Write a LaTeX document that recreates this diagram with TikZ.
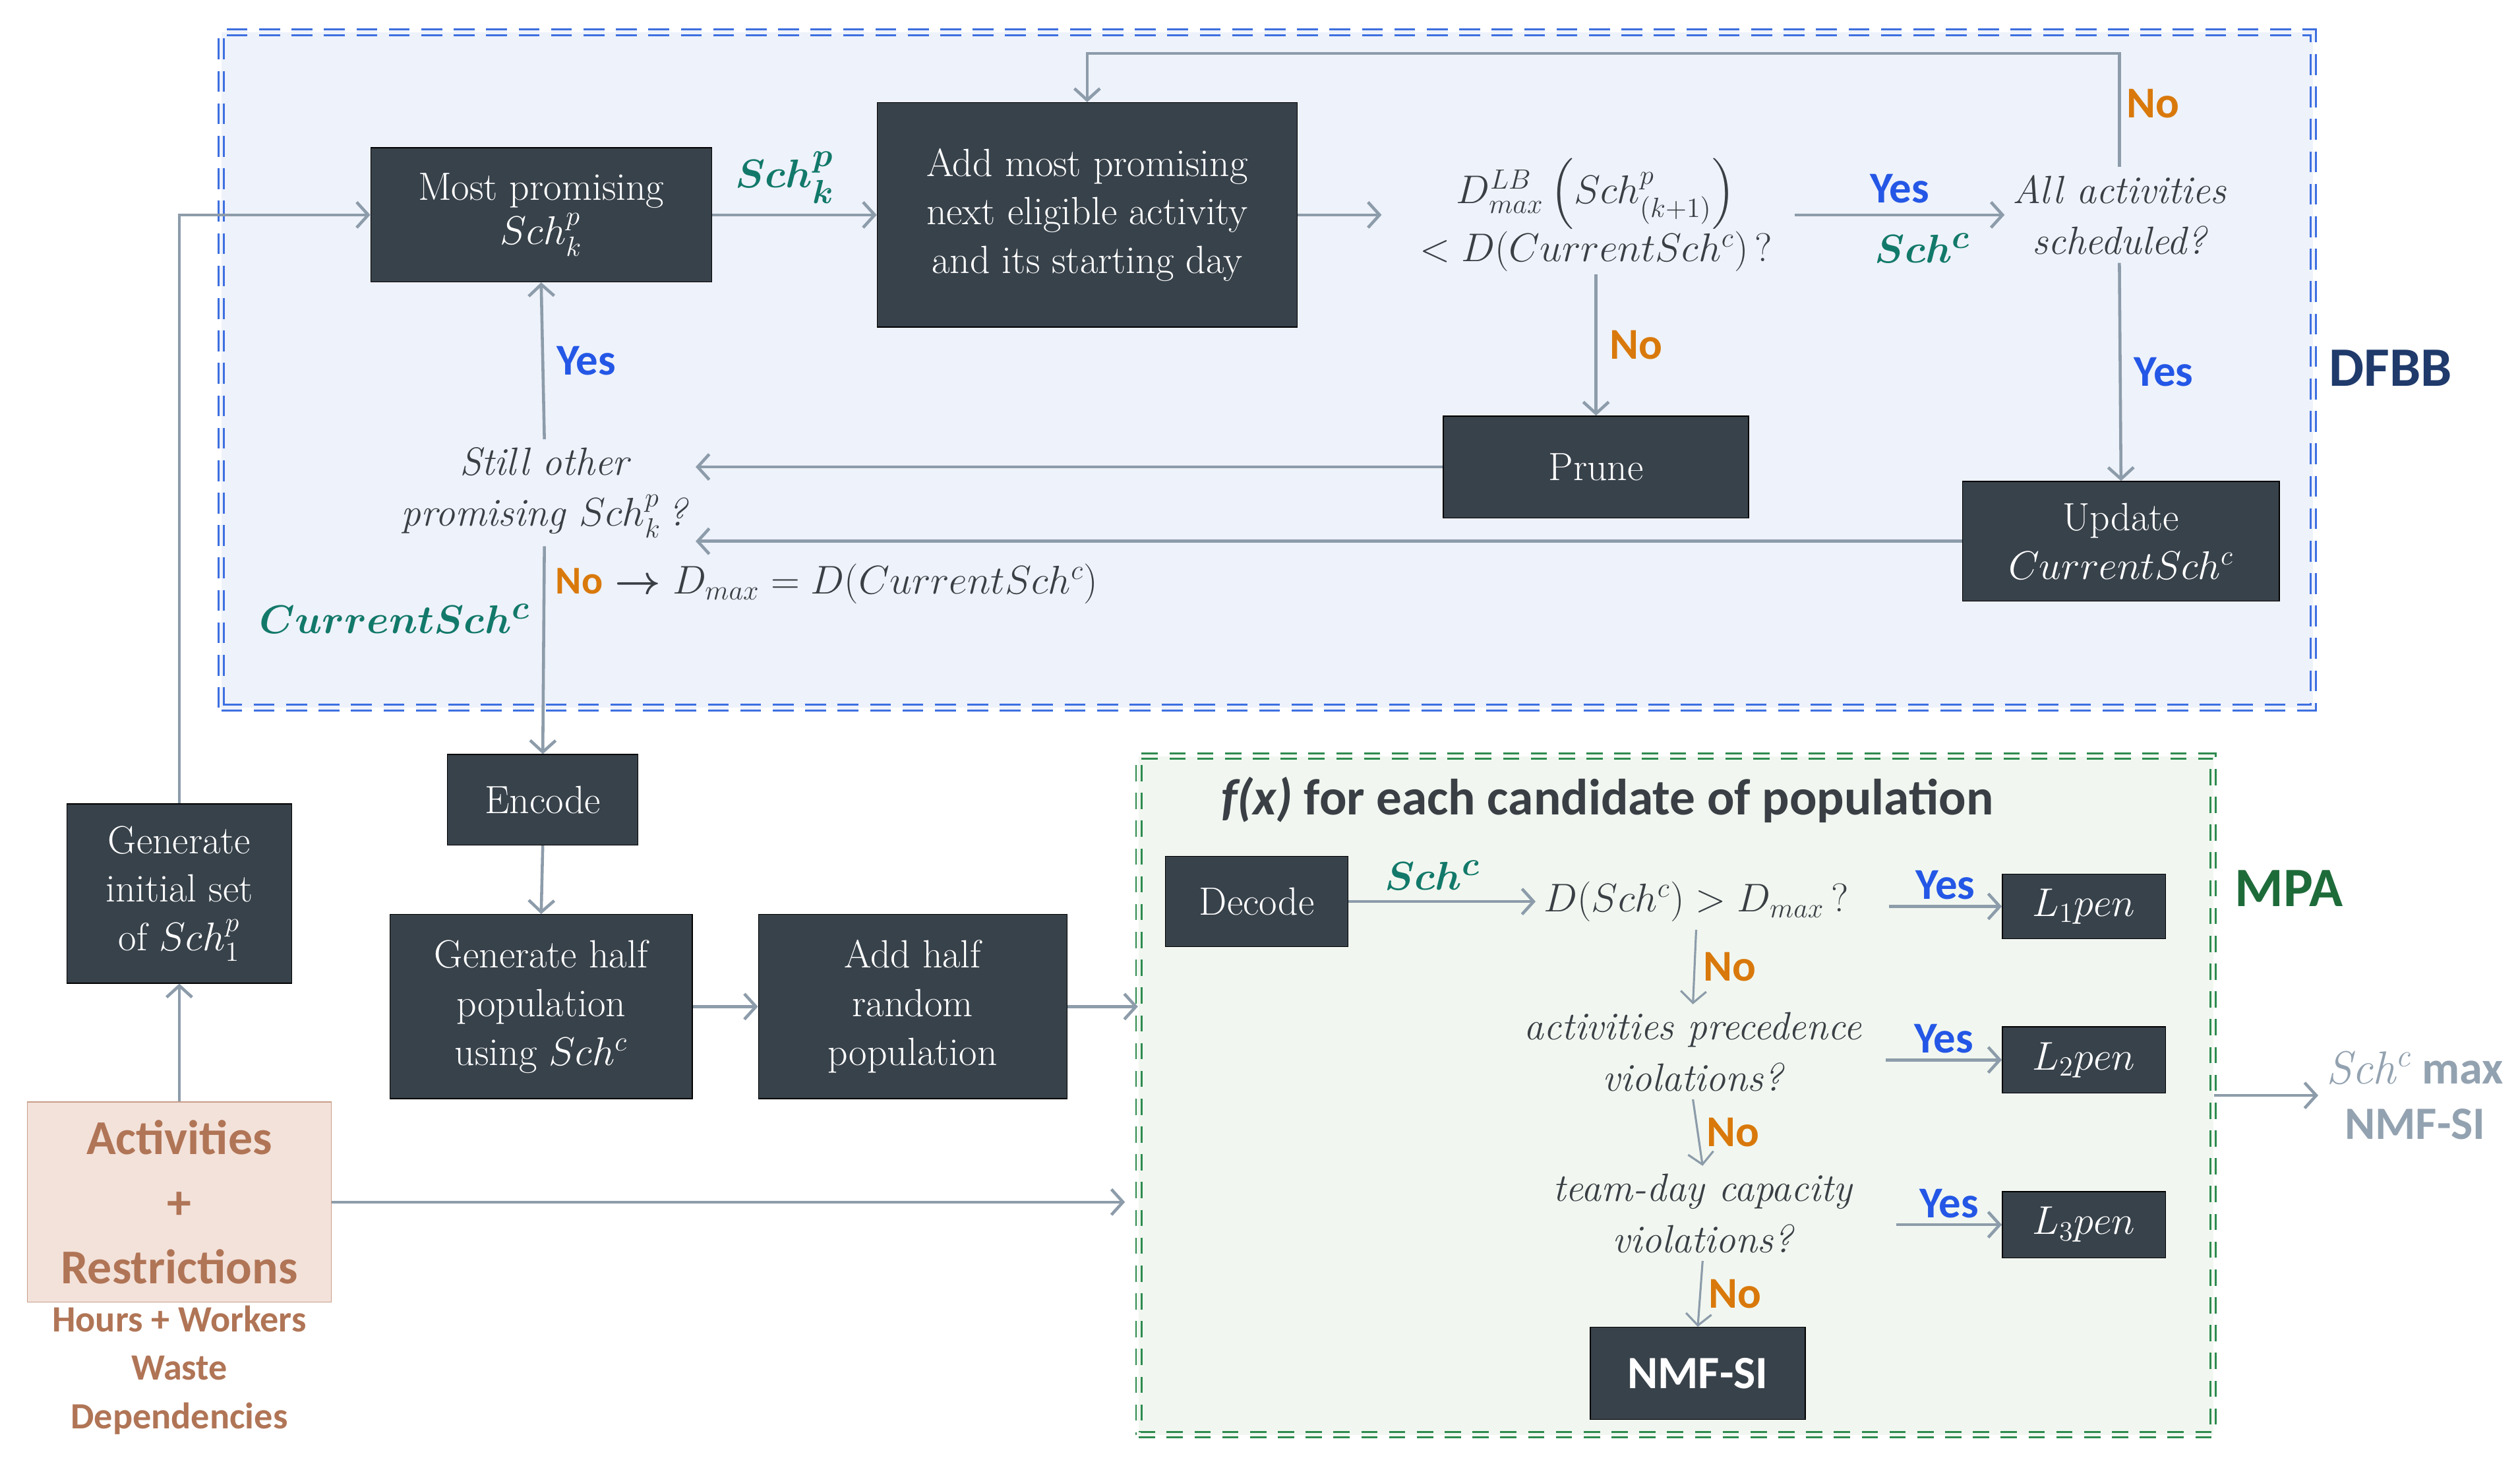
\documentclass[tikz,border=0pt]{standalone}
\usepackage{amsmath,amssymb}
\usepackage{fontspec}
\newfontfamily\cali{Carlito}
\usetikzlibrary{arrows.meta,positioning}
\definecolor{boxfill}{HTML}{38424B}
\definecolor{arrgray}{HTML}{8D9CAA}
\definecolor{qgray}{HTML}{3A3F45}
\definecolor{yesblue}{HTML}{2457E6}
\definecolor{noorange}{HTML}{D9790B}
\definecolor{schteal}{HTML}{12796A}
\definecolor{dfbbblue}{HTML}{3D6FE0}
\definecolor{dfbbfill}{HTML}{EEF2FA}
\definecolor{dfbbtext}{HTML}{1F3A6B}
\definecolor{mpagreen}{HTML}{2E8B4F}
\definecolor{mpafill}{HTML}{F1F7F0}
\definecolor{mpatext}{HTML}{1E6B3A}
\definecolor{actfill}{HTML}{F3E2DA}
\definecolor{acttext}{HTML}{B07556}
\definecolor{outgray}{HTML}{93A2B0}

\begin{document}
\begin{tikzpicture}[x=0.0245cm,y=-0.0245cm,
    blk/.style={draw=black, fill=boxfill, text=white, align=center, inner sep=2pt,
        font=\fontsize{17}{21}\selectfont},
    arr/.style={draw=arrgray, line width=1.3pt, -{Straight Barb[length=5pt,width=11pt]}},
    thin arr/.style={arr, line width=0.9pt},
    q/.style={align=center, text=qgray, font=\itshape\fontsize{17}{22}\selectfont},
    yes/.style={text=yesblue, font=\cali\bfseries\fontsize{19}{20}\selectfont},
    no/.style={text=noorange, font=\cali\bfseries\fontsize{19}{20}\selectfont},
    sch/.style={text=schteal, font=\bfseries\fontsize{19}{20}\selectfont}]
    \useasboundingbox (0,0) rectangle (1560,906);

    % frames
    \node (dfbb) [draw=dfbbblue, fill=dfbbfill, line width=0.8pt, double=dfbbfill,
        double distance=1.6pt, dash pattern=on 9pt off 5pt,
        minimum width=1295*0.0245cm, minimum height=418*0.0245cm] at (784.5,229) {};
    \node [text=dfbbtext, font=\cali\bfseries\fontsize{24}{26}\selectfont] at (1480,228) {DFBB};
    \node (mpa) [draw=mpagreen, fill=mpafill, line width=0.8pt, double=mpafill,
        double distance=1.6pt, dash pattern=on 7pt off 5pt,
        minimum width=665*0.0245cm, minimum height=420*0.0245cm] at (1037.5,678) {};
    \node [text=mpatext, font=\cali\bfseries\fontsize{24}{26}\selectfont] at (1417,550) {MPA};
    \node [text=qgray, font=\cali\bfseries\fontsize{22}{24}\selectfont] at (995,495)
        {\textit{f(x)} for each candidate of population};

    % DFBB nodes
    \node (most) [blk, minimum width=211*0.0245cm, minimum height=83*0.0245cm] at (335,133)
        {Most promising\\[-2pt] $Sch_k^p$};
    \node (add) [blk, minimum width=260*0.0245cm, minimum height=139*0.0245cm] at (673,133)
        {Add most promising\\ next eligible activity\\ and its starting day};
    \node (cond) [q, inner sep=1pt] at (988,133)
        {$D^{LB}_{max}\left(Sch^p_{(k+1)}\right)$\\ $<D(CurrentSch^c)\,?$};
    \node (all) [q] at (1312,133) {All activities\\ scheduled?};
    \node (prune) [blk, minimum width=189*0.0245cm, minimum height=63*0.0245cm] at (988,289) {Prune};
    \node (upd) [blk, minimum width=196*0.0245cm, minimum height=74*0.0245cm] at (1313,335)
        {Update\\ $CurrentSch^c$};
    \node (still) [q] at (337,305) {Still other\\ promising $Sch_k^p$\,?};

    % MPA nodes
    \node (dec) [blk, minimum width=113*0.0245cm, minimum height=56*0.0245cm] at (778,558) {Decode};
    \node (d1) [q] at (1050,558) {$D(Sch^c) > D_{max}\,?$};
    \node (d2) [q] at (1048,651) {activities precedence\\ violations?};
    \node (d3) [q] at (1054,751) {team-day capacity\\ violations?};
    \node (l1) [blk, minimum width=101*0.0245cm, minimum height=40*0.0245cm] at (1290,561) {$L_1pen$};
    \node (l2) [blk, minimum width=101*0.0245cm, minimum height=41*0.0245cm] at (1290,656) {$L_2pen$};
    \node (l3) [blk, minimum width=101*0.0245cm, minimum height=41*0.0245cm] at (1290,758) {$L_3pen$};
    \node (nmf) [blk, font=\cali\bfseries\fontsize{20}{22}\selectfont,
        minimum width=133*0.0245cm, minimum height=57*0.0245cm] at (1051,850) {NMF-SI};
    \node (out) [text=outgray, align=center, font=\cali\bfseries\fontsize{20}{24}\selectfont] at (1495,678)
        {$\mathit{Sch^c}$ max\\ NMF-SI};

    % lower left nodes
    \node (enc) [blk, minimum width=118*0.0245cm, minimum height=56*0.0245cm] at (336,495) {Encode};
    \node (gen) [blk, minimum width=187*0.0245cm, minimum height=114*0.0245cm] at (335,623)
        {Generate half\\ population\\ using $Sch^c$};
    \node (addh) [blk, minimum width=191*0.0245cm, minimum height=114*0.0245cm] at (565,623)
        {Add half\\ random\\ population};
    \node (init) [blk, minimum width=139*0.0245cm, minimum height=111*0.0245cm] at (111,553)
        {Generate\\ initial set\\ of $Sch_1^p$};
    \node (act) [draw=acttext!70, fill=actfill, text=acttext, align=center,
        font=\cali\bfseries\fontsize{21}{28}\selectfont,
        minimum width=188*0.0245cm, minimum height=124*0.0245cm] at (111,744)
        {Activities\\ +\\ Restrictions};
    \node (res) [text=acttext, align=center, font=\cali\bfseries\fontsize{16}{21}\selectfont] at (111,848)
        {Hours + Workers\\ Waste\\ Dependencies};

    % DFBB connectors
    \coordinate (loop) at (1310,33);
    \draw[arr] (init.north) |- (most.west);
    \draw[arr] (most.east) -- node[sch, above=1pt, xshift=-4pt] {$\boldsymbol{Sch_k^p}$} (most.east -| add.west);
    \draw[arr] (add.east) -- ++(52,0);
    \draw[arr] (cond.east |- all.west) ++(12,0) -- node[yes, above=1pt] {Yes} node[sch, below=4pt, xshift=10pt] {$\boldsymbol{Sch^c}$} (all.west);
    \draw[arr] (all.north) |- (loop) -| (add.north);
    \node[no] at (1333,64) {No};
    \draw[arr] (cond.south) -- node[no, right=2pt] {No} (prune.north);
    \draw[arr] (all.south) -- node[yes, right=2pt] {Yes} (upd.north);
    \draw[arr] (prune.west) -- (still.east |- prune.west);
    \draw[arr] (upd.west) -- (still.east |- upd.west);
    \draw[arr] (still.north) -- node[yes, right=2pt] {Yes} (most.south);
    \draw[arr] (still.south) -- node[pos=0.35, left=2pt, sch] {$\boldsymbol{CurrentSch^c}$}
        node[pos=0.18, right=1pt, text=qgray, font=\fontsize{17}{20}\selectfont]
        {{\cali\bfseries\color{noorange}No} $\boldsymbol{\rightarrow}$ $D_{max}=D(CurrentSch^c)$} (enc.north);

    % lower connectors
    \draw[arr] (enc.south) -- (gen.north);
    \draw[arr] (gen.east) -- (addh.west);
    \draw[arr] (addh.east) -- (mpa.west |- addh.east);
    \draw[arr] (act.north) -- (init.south);
    \draw[arr, shorten >=8*0.0245cm] (act.east) -- (mpa.west |- act.east);

    % MPA connectors
    \draw[arr] (dec.east) -- node[sch, above=1pt, pos=0.45] {$\boldsymbol{Sch^c}$} (dec.east -| d1.west);
    \draw[arr] (d1.east |- l1.west) ++(20,0) -- node[yes, above=-1pt] {Yes} (l1.west);
    \draw[arr] (d2.east |- l2.west) ++(10,0) -- node[yes, above=-1pt] {Yes} (l2.west);
    \draw[arr] (d3.east |- l3.west) ++(22,0) -- node[yes, above=-1pt] {Yes} (l3.west);
    \draw[thin arr] (d1.south) -- node[no, right=0pt] {No} (d2.north);
    \draw[thin arr] (d2.south) -- node[no, right=0pt] {No} (d3.north);
    \draw[thin arr] (d3.south) -- node[no, right=0pt] {No} (nmf.north);
    \draw[arr] (mpa.east) -- (out.west);
\end{tikzpicture}
\end{document}
